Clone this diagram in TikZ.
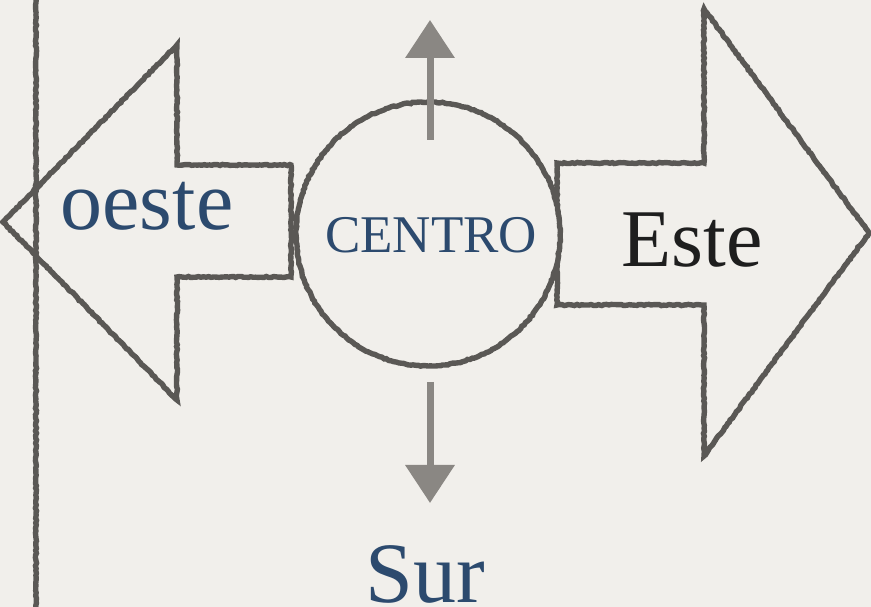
\documentclass[tikz,border=0pt]{standalone}
\usepackage{fontspec}
\setmainfont{Liberation Serif}
\usetikzlibrary{arrows.meta,decorations.pathmorphing}
\definecolor{paper}{HTML}{F1EFEB}
\definecolor{pencil}{HTML}{5A5855}
\definecolor{lightpencil}{HTML}{8A8783}
\definecolor{ink}{HTML}{2C4A6E}
\definecolor{blackink}{HTML}{1E1E1E}
\tikzset{
  sketch/.style={draw=pencil, line width=5.4pt, line join=miter,
    decorate, decoration={random steps, segment length=2.5pt, amplitude=0.6pt}},
  smallarrow/.style={draw=lightpencil, line width=7pt,
    -{Triangle[width=48pt,length=38pt]}, color=lightpencil},
  bigtext/.style={inner sep=0pt, anchor=base},
}
\begin{document}
\begin{tikzpicture}[x=1pt,y=1pt]
\fill[paper] (0,0) rectangle (871,607);
\useasboundingbox (0,0) rectangle (871,607);
% vertical line
\coordinate (vtop) at (36,609);
\coordinate (vbot) at (36,-2);
\draw[sketch] (vtop) -- (vbot);
% left arrow
\draw[sketch] (3,385) -- (177,562) -- (177,442) -- (291,442) -- (291,330)
  -- (177,330) -- (177,207) -- cycle;
% right arrow
\draw[sketch] (557,444) -- (704,444) -- (704,598) -- (869,374) -- (704,151)
  -- (704,302) -- (557,302) -- cycle;
% center circle
\node[sketch, circle, minimum size=264pt, inner sep=0pt, fill=paper] (centro) at (428,373) {};
\node[font=\fontsize{53}{55}\selectfont, text=ink, inner sep=0pt, anchor=base] (centrolabel) at (431,354) {CENTRO};
% up / down arrows
\coordinate (upstart) at (430,467);
\coordinate (upend) at (430,587);
\draw[smallarrow] (upstart) -- (upend);
\coordinate (downstart) at (430,225);
\coordinate (downend) at (430,104);
\draw[smallarrow] (downstart) -- (downend);
% labels
\node[bigtext, font=\fontsize{84}{86}\selectfont, text=ink] (oeste) at (147,377) {oeste};
\node[bigtext, font=\fontsize{82}{84}\selectfont, text=blackink] (este) at (692,340) {Este};
\node[bigtext, font=\fontsize{86}{88}\selectfont, text=ink] (sur) at (425,4) {Sur};
\end{tikzpicture}
\end{document}
